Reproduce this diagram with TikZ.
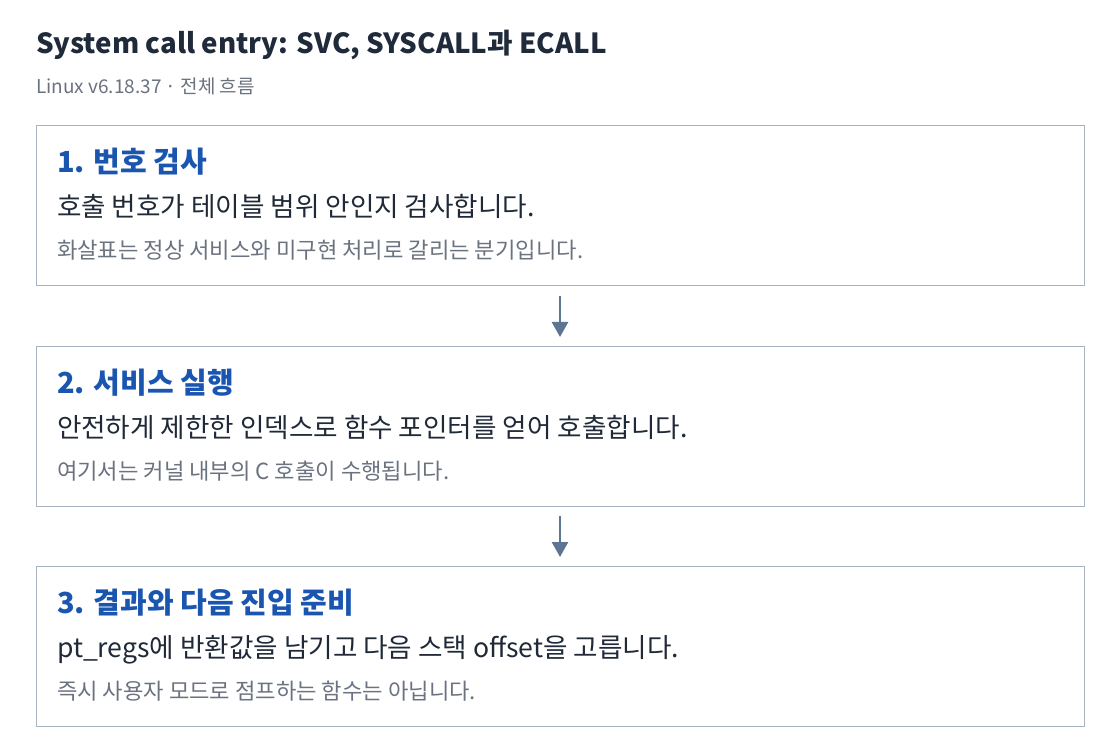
\documentclass[tikz,border=0pt]{standalone}
\usepackage{fontspec}
\setmainfont{Noto Sans CJK KR}
\usetikzlibrary{arrows.meta}
\definecolor{titlec}{HTML}{1F2A3A}
\definecolor{subc}{HTML}{6B7280}
\definecolor{headc}{HTML}{1A55B0}
\definecolor{bodyc}{HTML}{1F2937}
\definecolor{notec}{HTML}{6B7280}
\definecolor{boxc}{HTML}{A9B4C2}
\definecolor{arrc}{HTML}{5B7593}
\tikzset{
  txt/.style={anchor=base west, inner sep=0pt, outer sep=0pt},
  titletxt/.style={txt, text=titlec, font=\fontsize{27.7}{32}\selectfont\bfseries},
  subtxt/.style={txt, text=subc, font=\fontsize{19}{22}\selectfont},
  headtxt/.style={txt, text=headc, font=\fontsize{29}{32}\selectfont\bfseries},
  bodytxt/.style={txt, text=bodyc, font=\fontsize{26.6}{30}\selectfont},
  notetxt/.style={txt, text=notec, font=\fontsize{22.2}{26}\selectfont},
  stepbox/.style={draw=boxc, line width=1pt, minimum width=1048pt, minimum height=160pt, inner sep=0pt, outer sep=0pt, fill=white},
  flow/.style={draw=arrc, line width=2.6pt, -{Triangle[width=16pt,length=15pt]}, shorten <=10pt, shorten >=9pt}
}
\begin{document}
\begin{tikzpicture}[x=1pt,y=-1pt]
\useasboundingbox[fill=white] (0,0) rectangle (1120,754);
\node[titletxt] (title) at (36,54) {System call entry: SVC, SYSCALL과 ECALL};
\node[subtxt] (sub) at (36,94) {Linux v6.18.37 · 전체 흐름};

\node[stepbox] (b1) at (560,206) {};
\node[stepbox] (b2) at (560,426) {};
\node[stepbox] (b3) at (560,646) {};

\node[headtxt] (h1) at (57,173) {1. 번호 검사};
\node[bodytxt] (t1) at (57,217) {호출 번호가 테이블 범위 안인지 검사합니다.};
\node[notetxt] (n1) at (57,259) {화살표는 정상 서비스와 미구현 처리로 갈리는 분기입니다.};

\node[headtxt] (h2) at (57,393) {2. 서비스 실행};
\node[bodytxt] (t2) at (57,437) {안전하게 제한한 인덱스로 함수 포인터를 얻어 호출합니다.};
\node[notetxt] (n2) at (57,479) {여기서는 커널 내부의 C 호출이 수행됩니다.};

\node[headtxt] (h3) at (57,613) {3. 결과와 다음 진입 준비};
\node[bodytxt] (t3) at (57,657) {pt\_regs에 반환값을 남기고 다음 스택 offset을 고릅니다.};
\node[notetxt] (n3) at (57,699) {즉시 사용자 모드로 점프하는 함수는 아닙니다.};

\draw[flow] (b1.south) -- (b2.north);
\draw[flow] (b2.south) -- (b3.north);
\end{tikzpicture}
\end{document}
